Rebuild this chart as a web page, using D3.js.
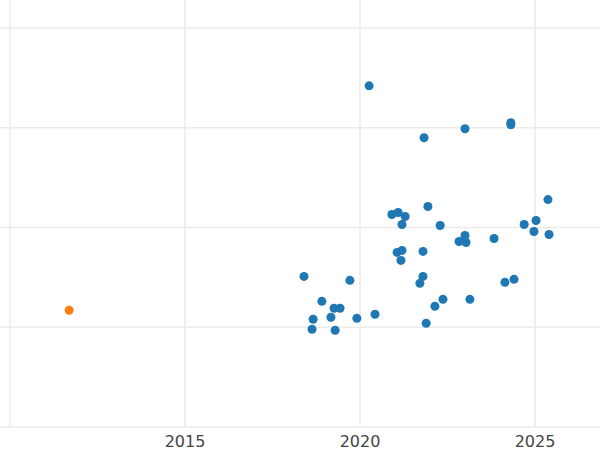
<!DOCTYPE html>
<html>
<head>
<meta charset="utf-8">
<script src="https://d3js.org/d3.v7.min.js"></script>
<style>body{margin:0;background:#fff;font-family:"DejaVu Sans",sans-serif;}</style>
</head>
<body>
<script>
const years = [2020.26,2021.83,2023.0,2024.31,2024.31,2025.37,2021.94,2020.91,2021.09,2021.29,2021.2,2022.29,2024.69,2025.03,2024.97,2025.4,2023.0,2023.03,2022.83,2023.83,2021.06,2021.2,2021.8,2021.17,2018.4,2019.71,2021.8,2021.71,2024.4,2024.14,2018.91,2022.37,2023.14,2022.14,2019.26,2019.43,2019.17,2018.66,2019.91,2020.43,2018.63,2019.29,2021.89];
const values = [3.42,2.90,2.99,3.05,3.03,2.28,2.21,2.13,2.15,2.11,2.03,2.02,2.03,2.07,1.96,1.93,1.92,1.85,1.86,1.89,1.75,1.77,1.76,1.67,1.51,1.47,1.51,1.44,1.48,1.45,1.26,1.28,1.28,1.21,1.19,1.19,1.10,1.08,1.09,1.13,0.98,0.97,1.04];
const outlierYears = [2011.69];
const outlierValues = [1.17];
const xTicks = [2010, 2015, 2020, 2025];
const yTicks = [0, 1, 2, 3, 4];

const W = 600, H = 450;
const svg = d3.select("body").append("svg").attr("width", W).attr("height", H);
const x = d3.scaleLinear().domain([2010, 2026.857]).range([10, 600]);
const y = d3.scaleLinear().domain([0, 4]).range([427, 28]);

svg.append("g").selectAll("line").data(yTicks).join("line")
  .attr("x1", 0).attr("x2", W).attr("y1", d => y(d)).attr("y2", d => y(d))
  .attr("stroke", "#ebebeb").attr("stroke-width", 1.5);
svg.append("g").selectAll("line").data(xTicks).join("line")
  .attr("x1", d => x(d)).attr("x2", d => x(d)).attr("y1", 0).attr("y2", 427)
  .attr("stroke", "#ebebeb").attr("stroke-width", 1.5);

svg.append("g").selectAll("text").data(xTicks.slice(1)).join("text")
  .attr("x", d => x(d)).attr("y", 447).attr("text-anchor", "middle")
  .attr("font-size", 16).attr("fill", "#444").text(d => d);

svg.append("g").selectAll("circle").data(years).join("circle")
  .attr("cx", d => x(d)).attr("cy", (d, i) => y(values[i])).attr("r", 4.5)
  .attr("fill", "#1f77b4");
svg.append("g").selectAll("circle").data(outlierYears).join("circle")
  .attr("cx", d => x(d)).attr("cy", (d, i) => y(outlierValues[i])).attr("r", 4.5)
  .attr("fill", "#ff7f0e");
</script>
</body>
</html>
